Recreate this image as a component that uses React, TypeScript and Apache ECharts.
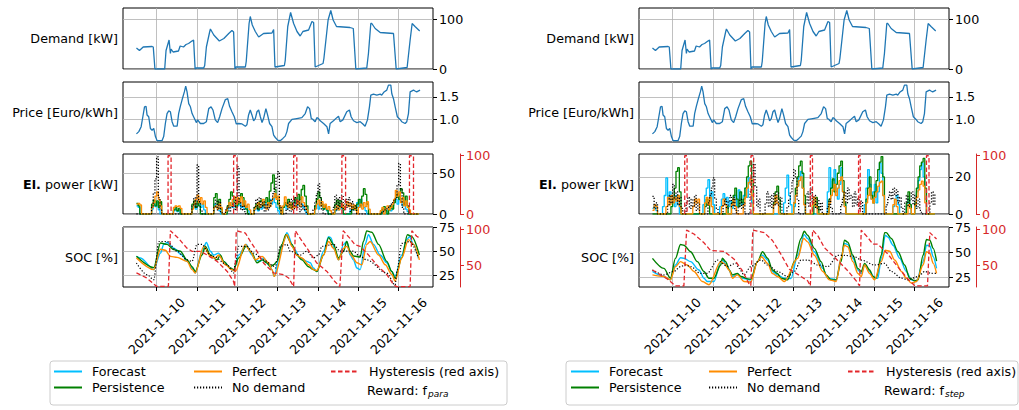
import React, { useEffect, useRef } from "react";
import * as echarts from "echarts";

// x values: hours since 2021-11-09 00:00 ; data arrays use hours since 2021-11-09 12:00
const START_HOUR = 12;
const DAY_TICKS = [24, 48, 72, 96, 120, 144, 168];
const DATE_LABELS = ["2021-11-10", "2021-11-11", "2021-11-12", "2021-11-13", "2021-11-14", "2021-11-15", "2021-11-16"];

const DEMAND = [[0,42],[1.8,37],[4,44],[9.3,45],[10,44],[11,0],[16.8,0],[17.6,37],[19.4,58],[20.2,31],[20.6,40],[21.8,34],[25,36],[26,46],[28,44],[29.5,49],[31,51],[33,56],[34,58],[34.9,0],[35.5,2],[40,2],[40.6,7],[41.6,44],[43.6,75],[44,80],[46,68],[49.3,56],[52,61],[54.9,71],[56.8,77],[57.8,74],[58.6,0],[59.2,4],[64.8,4],[65.3,15],[67,91],[67.7,105],[68.9,88],[70.7,75],[72.7,64],[75.6,71],[80.6,72],[81.6,79],[82.4,4],[88,7],[88.5,17],[90,85],[91.7,113],[93.5,91],[95.5,75],[97.4,66],[99,75],[102.4,78],[104.4,95],[105.4,93],[106.3,4],[111,11],[111.5,21],[114,98],[115.6,117],[117,98],[119,85],[127,83],[129,81],[130.5,0],[137,2],[138,31],[139.4,91],[140,91],[142,81],[145,73],[152.9,71],[154.5,0],[161,3],[162.8,58],[164,91],[165.7,85],[168.5,76]];

const PRICE = [[0,0.68],[1.4,0.73],[2.8,0.84],[3.8,1.06],[4.8,1.28],[5.7,1.29],[6.3,1.1],[7.3,1.06],[8.3,0.8],[9.3,0.76],[10.3,0.8],[11.3,0.62],[12.3,0.53],[15.2,0.53],[16.2,0.62],[17.2,0.91],[18.2,1.13],[19.2,1.19],[20.2,1.17],[21.2,0.95],[22.2,0.85],[24.2,0.85],[25.1,1.13],[26.1,1.29],[27.1,1.43],[28.5,1.61],[29.3,1.74],[30.1,1.61],[31.1,1.35],[32.1,1.28],[33.1,1.13],[34.5,1.02],[35.6,0.93],[36.4,0.99],[38,0.91],[40,0.91],[41.6,0.95],[43,1.24],[44.4,1.28],[45.5,1.21],[46.9,0.99],[48.3,0.93],[49.5,1.06],[50.9,1.24],[52.9,1.44],[54.3,1.46],[55.4,1.29],[56.8,1.17],[58.2,1.06],[59.4,0.9],[60.8,0.91],[62.8,0.9],[64.8,0.85],[65.7,0.88],[66.7,1.1],[67.7,1.21],[68.7,1.1],[69.7,0.97],[70.7,1.02],[71.7,1.17],[72.7,1.21],[73.7,1.06],[74.7,0.93],[75.6,1.02],[77,1.24],[78,1.1],[79.2,0.91],[80.6,0.84],[81.6,0.65],[82.6,0.6],[84,0.54],[85.5,0.53],[87.1,0.58],[88.5,0.63],[89.5,0.73],[90.5,0.91],[92.5,1],[95.4,1.02],[98.4,1.04],[100.4,1.13],[101.8,1.28],[103,1.24],[104,1.02],[105,1],[106.3,0.95],[107.3,1.04],[108.3,1.02],[109.3,0.97],[111.3,0.91],[113.3,0.84],[114.3,0.68],[115.2,0.91],[117.2,0.97],[119.2,1.04],[120.2,1.07],[121.2,0.95],[122.8,0.99],[125.1,1.17],[126.7,1.21],[127.7,1.06],[129.1,0.97],[131.1,0.93],[133.1,0.95],[134.7,0.9],[136,0.85],[137.4,0.99],[138.6,1.28],[139.4,1.54],[141,1.56],[143,1.54],[145,1.56],[145.9,1.54],[147.3,1.61],[148.9,1.65],[149.9,1.76],[151.3,1.76],[151.9,1.57],[152.9,1.46],[153.9,1.28],[155.2,1.06],[156.8,1],[157.8,0.95],[159.8,0.91],[160.8,0.95],[161.8,1.13],[162.8,1.61],[164.8,1.65],[165.7,1.63],[166.7,1.61],[168.7,1.65]];

// hourly electric power, left (f_para)
const L_POW_FORECAST = [10,8,0,0,0,0,0,0,0,6,12,9, 14,5,0,0,0,0,0,0,0,0,4,6, 3,5,0,0,0,0,0,0,0,8,12,6, 10,14,8,12,5,0,0,0,0,0,12,8, 10,4,0,0,0,0,6,10,14,8,12,16, 10,14,8,12,6,10,4,0,0,0,5,8, 4,10,6,12,8,14,10,18,12,20,14,8, 4,0,0,8,12,6,10,14,8,12,16,10, 14,20,12,8,4,0,0,0,0,0,8,12, 6,14,10,6,8,4,0,0,0,0,4,8, 5,10,6,0,0,0,0,4,8,5,10,14, 8,18,12,8,4,0,0,0,0,0,0,0, 0,0,4,6,0,5,8,4,10,14,18,12, 22,16,10,14,6,3,0,0,0,0,0,0,0];
const L_POW_PERSIST = [13,10,0,0,0,0,0,0,0,12,17,10, 16,8,15,0,0,0,0,0,0,0,5,8, 4,7,0,0,0,0,0,0,0,12,16,8, 15,10,0,0,0,0,0,0,0,0,20,25, 12,18,6,0,0,0,10,18,27,22,14,8, 12,18,25,20,10,6,0,0,0,0,8,12, 6,15,17,10,14,20,12,28,38,48,30,20, 12,6,0,8,14,10,18,12,8,14,20,12, 24,18,30,35,22,10,0,0,0,0,10,18, 27,20,12,6,10,5,0,0,0,0,12,17, 10,16,8,0,0,0,0,0,6,10,5,12, 18,10,22,31,24,12,0,0,0,0,0,0, 0,0,6,9,4,0,5,10,6,14,20,25, 18,31,26,12,22,10,0,0,0,0,0,0,0];
const L_POW_PERFECT = [12,13,11,0,0,0,0,0,0,8,14,22, 27,18,10,0,0,0,0,0,0,0,8,10, 9,10,7,0,0,0,0,0,0,6,12,18, 23,14,20,12,16,8,0,0,0,0,8,10, 6,12,8,0,0,4,8,14,10,18,21,12, 20,14,21,10,16,8,12,5,0,0,6,10, 14,8,12,18,10,6,14,9,16,20,25,18, 22,10,0,10,21,12,8,14,6,10,8,12, 16,9,21,14,10,5,0,0,0,0,6,12, 17,10,15,8,12,6,9,4,0,0,6,10, 5,8,12,6,10,15,9,13,7,11,5,0, 8,12,6,14,9,15,6,0,0,0,0,0, 0,4,8,0,6,10,5,8,12,18,29,22, 27,14,20,10,16,8,5,0,0,0,0,0,0];
const L_POW_NODEMAND = [0,0,0,0,0,0,0,0,0,10,25,43, 70,20,5,0,0,0,0,0,0,0,0,0, 0,0,0,0,0,0,0,0,0,10,20,8, 60,15,5,0,0,0,0,0,0,0,8,17, 5,15,3,0,0,5,10,3,8,12,5,20, 58,15,5,10,3,0,0,0,0,0,8,18, 5,20,8,15,3,12,5,10,18,25,32,45, 52,10,0,0,0,5,15,3,18,5,20,8, 17,3,12,5,10,0,0,0,0,5,15,25, 37,20,5,0,0,0,0,0,0,8,23,5, 20,8,23,5,18,8,20,3,15,5,10,0, 0,0,0,0,0,0,0,0,0,0,0,0, 0,0,3,5,6,8,10,12,14,16,20,35, 62,30,8,0,0,0,0,0,0,0,0,0,0];

// hourly electric power, right (f_step)
const R_POW_FORECAST = [3,5,2,0,0,0,4,10,19.5,8,12,6, 9,4,10,5,0,0,0,0,0,0,0,0, 0,0,0,0,0,0,5,10,14,18.5,8,12, 5,0,0,0,4,8,11,6,9,4,7,3, 6,10,4,13,8,5,10,14,9,19.5,16,6, 0,0,0,0,0,0,0,0,0,0,0,0, 0,0,0,0,0,0,6,14,21,10,5,0, 4,10,15,20,23,14,6,0,0,0,0,0, 0,0,0,0,0,0,0,0,12,25,14,18, 24,12,8,16,25,12,5,0,0,0,0,0, 0,0,0,0,0,0,5,14,24,16,8,12, 16,6,12,27.5,22,10,0,0,0,0,0,4, 8,10,5,0,0,0,0,4,8,5,0,0, 4,12,18,24,27.5,20,8,0,0,0,0,0,0];
const R_POW_PERSIST = [0,0,0,0,0,0,0,0,0,0,0,4, 8,14,23,25,12,0,0,0,0,0,0,0, 0,0,0,0,0,0,0,4,8,5,0,0, 0,0,0,0,0,0,0,0,4,0,0,6, 10,14,8,4,12,6,8,14,20,26,28.5,18, 0,0,0,0,0,0,0,0,0,0,0,0, 6,12,15,8,0,0,0,0,0,0,0,0, 6,14,20,26,28.5,22,10,0,0,0,0,0, 5,9,4,0,0,0,0,0,0,8,14,19, 12,16,22,26,28.5,18,6,0,0,0,0,0, 0,0,0,0,0,0,0,8,14,20,10,6, 12,18,24,28,31,20,0,0,0,0,0,0, 0,0,0,0,0,0,0,6,12,5,0,0, 6,14,20,26,28,30,14,0,0,0,0,0,0];
const R_POW_PERFECT = [2,5,4,0,0,0,0,0,4,9,5,10, 6,9,7,10,4,0,0,0,0,0,0,0, 4,8,6,8,0,0,0,6,9,5,9,4, 0,0,0,0,0,4,8,5,0,0,0,5, 8,4,0,0,0,0,5,9,14,17,19,10, 0,0,0,0,0,0,0,0,0,0,0,0, 5,10,6,0,0,0,0,0,0,0,0,0, 6,10,15,18,20,14,5,0,0,0,0,5, 9,4,0,0,0,0,0,0,0,6,10,13, 16,10,14,18,20,12,4,0,0,0,0,0, 0,0,0,0,0,0,0,6,10,14,8,6, 9,12,15,17,17.7,10,0,0,0,0,0,5, 8,4,0,0,0,0,0,0,5,3,0,0, 5,9,13,16,17.7,15,6,0,0,0,0,0,0];
const R_POW_NODEMAND = [9.5,3,6,0,0,0,0,0,0,5,10,6, 16,8,12,5,9,3,0,0,6,9,3,8, 4,10,2,6,0,0,0,0,0,6,10,14, 19.5,8,3,0,0,0,5,8,3,7,10,4, 9,2,0,4,8,3,6,0,0,0,12,20, 27,15,4,8,0,0,0,6,12,4,10,3, 11,5,12,4,9,0,0,0,4,8,12,18, 24,20,8,0,0,0,0,6,12,4,14,6, 10,3,8,2,6,0,0,0,4,8,3,0, 0,0,0,0,5,9,12,6,14,8,10,4, 12,5,9,3,7,0,0,0,0,0,0,0, 0,0,0,0,0,0,0,5,9,12,8,14, 10,13,6,9,3,0,6,10,4,8,12,5, 10,3,8,2,0,0,0,0,0,6,12,5,11];

// hysteresis pulses on the power panel: [start, end] hours, level on red axis
const HYST_ON = 100;
const L_HYST_PULSES = [[18.8,20.6],[57.8,59.8],[93.5,95.4],[122.2,124.4],[162.4,164.8]];
const R_HYST_PULSES = [[19.2,20.6],[58.6,60.2],[93.9,95.2],[122.6,123.6],[163,164.5]];

// SOC, left
const L_SOC_FORECAST = [[0,44.7],[2.4,43],[10.3,31],[14.3,48],[16.2,57],[18.2,59],[22.2,53],[27.1,46],[30.1,39.5],[34.1,31],[35,27.4],[39,50],[41.6,59],[44,50],[45.9,46],[48.9,48],[51.9,39.5],[55.8,32.6],[57.8,30],[60.8,46],[65.3,57],[68.7,46],[70.7,41],[73.7,39.5],[75.6,43],[78.6,36],[80.6,31],[82,24],[84.6,41],[87.5,60],[89.5,69],[93.5,53],[97.4,43],[101.4,39.5],[103.4,38],[105.3,32.6],[107.3,29],[111.3,50],[114.3,65],[115.6,64],[118.2,50],[120.2,41],[123.2,57],[125.1,60],[127.1,46],[129.1,41],[131.1,32.6],[133.1,31],[136,57],[138,67],[141,57],[145,46],[148.9,38],[151.9,29],[153.9,24],[157.8,46],[160.8,62],[162.4,65],[164.8,57],[167.7,43]];
const L_SOC_PERSIST = [[0,44.7],[10.3,33],[14.3,58.4],[18.2,57],[22.2,51.6],[26.1,50],[30.1,41],[33.1,34],[35,29],[39,46],[41,55],[44,46],[47.9,41],[49.9,46],[51.9,39.5],[55.8,32.6],[57.8,31],[60.8,43],[65.3,55],[68.7,48],[71.7,38],[74.7,41],[77.6,38],[79.6,34],[81.6,36],[83.6,39.5],[86.5,57],[88.9,67],[92.5,57],[95.4,46],[98.4,41],[102.4,34],[105.3,31],[107.3,29],[111.3,46],[114.3,64],[117.2,57],[120.2,43],[123.2,50],[125.1,60],[127.1,50],[129.1,45],[133.1,44],[135,60],[137,71],[140,69.6],[144,57],[148.9,39.5],[151.9,29],[153.9,22],[157.8,43],[161.2,67],[163.8,65],[168.3,46]];
const L_SOC_PERFECT = [[0,43],[10.3,31],[14.3,52],[17.2,51],[20.2,44.6],[24.2,43.6],[30.1,39.5],[33.1,31],[35,27.4],[40,55],[44,44.6],[46.9,43],[48.9,46],[52.9,36],[56.8,31],[58.8,29],[64.8,57],[67.7,50],[70.7,41],[74.7,44.6],[78.6,38],[80.6,31],[82,24],[89.5,67],[92.5,55],[95.4,46],[98.4,43],[102.4,36],[105.3,31],[107.3,30],[111.3,46],[114.3,60],[117.2,53],[120.2,41],[123.2,53],[125.1,55],[128.1,45],[131.1,38],[134.1,36],[137,57],[139,60],[144,46],[148,36],[151.9,26],[153.9,19],[157.8,43],[161.8,62],[164.8,57],[168.3,41]];
const L_SOC_NODEMAND = [[0,37.8],[6.3,25.7],[10.3,20.5],[13.3,60],[18.2,60],[24.2,50],[30.1,41],[33.1,39.5],[36,57],[39,57],[44,46],[45.9,44.6],[53.9,36],[57.8,27.4],[58.8,38],[60.8,55],[65.7,55],[69.7,48],[75.6,41],[80.6,36],[82.6,32.6],[83.6,41],[85.5,55],[89.5,57],[91.5,50],[97.4,46],[101.4,50],[105.3,43],[108.3,46],[110.3,55],[117.2,57],[121.2,50],[129.1,50],[132.1,46],[137,41],[148.9,27.4],[153.9,15],[154.9,29],[157.8,58],[162.8,60],[167.7,43]];
const L_SOC_HYST = [[0,40],[6,33],[12,21.3],[19,21.3],[20.2,98.6],[25,88],[30,74.5],[33,70],[38,70],[42,65],[48,56],[54,42],[57.8,28],[58.4,21],[59.4,98.6],[64.8,95.4],[67.7,84],[71.7,70],[75.6,53.7],[81.6,40],[87.5,37.5],[90.5,33],[93.5,21],[94.5,98.6],[97.4,88],[101.4,74.5],[107.3,53.7],[113.3,42],[118,28],[121,21],[123,98.6],[127,88],[130,79],[133,77],[138,65],[143,51],[149,37.5],[152.9,23.6],[154.8,21],[162.8,21],[163.8,98.6],[166.7,91],[168.7,88]];

// SOC, right
const R_SOC_FORECAST = [[0,31],[6.8,26],[10.7,22.7],[13.7,37.4],[16.7,44.6],[18.7,44],[22.7,40.7],[27.7,32.5],[30.6,24.3],[32.6,21],[36.6,21],[40.6,40.7],[41.6,42.3],[44.6,36],[47.6,26],[50.5,29],[53.5,24.3],[58.5,22.7],[62.5,40.7],[65.5,47],[68.5,42.3],[71.4,31],[74.4,27.6],[78.4,24.3],[82.4,24],[86.4,47],[90.3,67.5],[92.3,63.6],[96.3,50.5],[101.3,34],[104.3,24.3],[109.3,22.7],[112.2,44],[114.2,58.7],[116.2,57.7],[119.2,44],[122.2,32.5],[124.2,29],[126.2,37.4],[129.2,31],[132.1,25],[134.1,24.3],[136.1,44],[138.5,66.8],[140.1,65],[143.1,57],[147.1,44],[151,31],[154,22.7],[157,21],[161,40.7],[163,57],[165,56.4],[167,45.6],[169,34]];
const R_SOC_PERSIST = [[0,44],[6.8,34],[10.7,24.3],[13.7,44],[16.7,57.7],[18.7,57],[22.7,50.5],[26.7,40.7],[30.6,31],[33.6,24.3],[36.6,24.3],[40.6,37.4],[41.6,44],[43.6,40.7],[45.6,32.5],[47.6,27.6],[50.5,29],[52.5,26],[57.5,23.4],[58.5,23.4],[62.5,40.7],[65.5,50.5],[68.5,44],[71.4,32.5],[74.4,29],[76.4,24.3],[80.4,22.7],[84.4,40.7],[88.4,63.6],[90.3,70.8],[92.3,66.8],[96.3,53.8],[100.3,40.7],[103.3,27.6],[106.3,22.7],[109.3,22.7],[112.2,40.7],[114.2,62],[116.2,60],[119.2,47],[122.2,34],[124.2,31],[126.2,39],[129.2,32.5],[131.1,26],[133.1,24.3],[136.1,47],[138.1,69.4],[139.1,69.4],[142.1,63.6],[146.1,50.5],[150,37.4],[153,24.3],[156,21.7],[158,22.7],[161,47],[163,62.6],[165,62],[167,53.8],[169,41.3]];
const R_SOC_PERFECT = [[0,27.6],[6.8,26],[10.7,22.7],[13.7,35.8],[16.7,40.7],[20.7,37.4],[24.7,31],[29.7,21],[33.6,17.8],[40.6,40.7],[42.6,39],[45.6,32.5],[47.6,24.3],[50.5,27.6],[54.5,21],[58.5,20.5],[62.5,40.7],[64.9,45.6],[68.5,39],[71.4,29],[74.4,26],[78.4,21],[86.4,44],[90,63.6],[92.3,60.3],[96.3,47],[101.3,31],[105.3,22.7],[109.3,21],[112.2,44],[114.2,57],[116.2,55.4],[119.2,40.7],[122.2,29],[124.2,26],[126.2,37.4],[129.2,29],[132.1,22.7],[136.1,40.7],[138.5,52],[141.1,51],[144.1,42.3],[148.1,31],[151,24.3],[154,19.4],[157,21],[161,37.4],[163,50.5],[165,49],[167,39],[169,29]];
const R_SOC_NODEMAND = [[0,32.5],[6.8,27.6],[12.7,31],[16.7,35.8],[19.7,37.4],[22.7,35.8],[28.7,29],[32.6,29],[38.6,42.3],[44.6,36],[49.6,39],[51.5,34],[54.5,27.6],[58.5,35.8],[64.5,42.3],[68.5,37.4],[74.4,31],[80.4,26],[84.4,31],[88.4,42.3],[92.3,42.3],[98.3,37.4],[104.3,35.8],[110.2,47],[114.2,47],[120.2,45.6],[124.2,42.3],[132.1,37.4],[138.1,39],[142.1,31],[148.1,24.3],[152,22.7],[158,26],[162,31],[166,29],[169,29]];
const R_SOC_HYST = [[0,44],[8.8,31.5],[13.7,22],[18.7,22],[20.3,99.5],[24.7,94],[30.6,82],[34.6,71],[42.6,70],[48.6,59],[53.5,43],[57.5,24.5],[58.5,22],[59.7,99.5],[66.5,96],[71.4,85],[76.4,66],[81.4,45],[84.4,41],[92.3,29],[93.9,22],[95.3,99.5],[98.3,92],[102.3,75],[108.3,61.6],[116.2,43],[121.2,29],[123.2,22],[124.2,99.5],[128.2,89],[131.1,80],[134.1,80],[140.1,66],[146.1,48],[151,34],[155,24.5],[156,22],[163.6,22],[165,96],[169,87]];

// ---------- layout / style ----------
const FONT = "DejaVu Sans";
const FS = 12.7;
const COL_LEFT = [123, 639];
const GRID_W = 310;
const GRID_TOPS = [8, 82, 154, 227];
const GRID_HS = [61, 60, 60, 60];
const X_MIN = 4;
const X_MAX = 188.4;
const LABEL_SHIFT = 15.5;
const C_BLUE = "#1f77b4";
const C_FORECAST = "#00bfff";
const C_PERSIST = "#008000";
const C_PERFECT = "#ff8c00";
const C_RED = "#e3262b";
const C_RED_AXIS = "#d62728";
const C_GRIDLINE = "#b0b0b0";

const hourly = (arr: number[]) => arr.map((v, i) => [START_HOUR + i, v]);
const pairs = (arr: number[][]) => arr.map(([h, v]) => [START_HOUR + h, v]);
const pulses = (arr: number[][]) => {
  const out: any[] = [];
  arr.forEach(([s, e]) => {
    out.push([START_HOUR + s, 0], [START_HOUR + s, HYST_ON], [START_HOUR + e, HYST_ON], [START_HOUR + e, 0], [START_HOUR + e + 0.01, "-"]);
  });
  return out;
};

function buildOption() {
  const grid: any[] = [];
  const xAxis: any[] = [];
  const yAxis: any[] = [];
  const series: any[] = [];
  const graphic: any[] = [];

  const yCfg = [
    [{ min: 0, max: 122, ticks: [0, 100], fmt: (v: number) => String(v) }, { min: 0, max: 122, ticks: [0, 100], fmt: (v: number) => String(v) }],
    [{ min: 0.5, max: 1.83, ticks: [1.0, 1.5], fmt: (v: number) => v.toFixed(1) }, { min: 0.5, max: 1.83, ticks: [1.0, 1.5], fmt: (v: number) => v.toFixed(1) }],
    [{ min: 0, max: 73.5, ticks: [0, 50], fmt: (v: number) => String(v) }, { min: 0, max: 32.4, ticks: [0, 20], fmt: (v: number) => String(v) }],
    [{ min: 13, max: 75, ticks: [25, 50, 75], fmt: (v: number) => String(v) }, { min: 15.6, max: 75, ticks: [25, 50, 75], fmt: (v: number) => String(v) }],
  ];
  const names = ["Demand [kW]", "Price [Euro/kWh]", "{b|El.} power [kW]", "SOC [%]"];

  for (let c = 0; c < 2; c++) {
    for (let p = 0; p < 4; p++) {
      const gi = c * 4 + p;
      grid.push({
        left: COL_LEFT[c], top: GRID_TOPS[p], width: GRID_W, height: GRID_HS[p],
        show: true, borderColor: "#000", borderWidth: 1, backgroundColor: "transparent",
      });
      const showX = p === 3;
      xAxis.push({
        type: "value", gridIndex: gi, min: X_MIN, max: X_MAX,
        axisLine: { show: false, onZero: false },
        axisTick: { show: showX, customValues: DAY_TICKS, length: 4, lineStyle: { color: "#000" } },
        axisLabel: {
          show: showX, customValues: DAY_TICKS.map((v) => v + LABEL_SHIFT), rotate: 45, margin: 13,
          color: "#000", fontFamily: FONT, fontSize: FS,
          formatter: (v: number) => DATE_LABELS[DAY_TICKS.indexOf(Math.round(v - LABEL_SHIFT))] || "",
        },
        splitLine: { show: true, lineStyle: { color: C_GRIDLINE, width: 0.8 } },
      });
      const yc = yCfg[p][c];
      yAxis.push({
        type: "value", gridIndex: gi, position: "right", min: yc.min, max: yc.max,
        axisLine: { show: false, onZero: false },
        axisTick: { show: true, customValues: yc.ticks, length: 4, lineStyle: { color: "#000" } },
        axisLabel: { customValues: yc.ticks, formatter: yc.fmt, color: "#000", fontFamily: FONT, fontSize: FS, margin: 6 },
        splitLine: { show: true, lineStyle: { color: C_GRIDLINE, width: 0.8 } },
      });
      graphic.push({
        type: "text", x: COL_LEFT[c] - 5, y: GRID_TOPS[p] + GRID_HS[p] / 2,
        style: {
          text: names[p], fontFamily: FONT, fontSize: FS, fill: "#000", align: "right", verticalAlign: "middle",
          rich: { b: { fontFamily: FONT, fontSize: FS, fontWeight: "bold", fill: "#000" } },
        },
      });
    }
  }
  // red axes: index 8 (left power), 9 (left soc), 10 (right power), 11 (right soc)
  for (let c = 0; c < 2; c++) {
    const defs = [
      { gi: c * 4 + 2, min: 0, max: 103, ticks: [0, 100] },
      { gi: c * 4 + 3, min: 20.4, max: 103.8, ticks: [50, 100] },
    ];
    defs.forEach((d) => {
      yAxis.push({
        type: "value", gridIndex: d.gi, position: "right", offset: 27, min: d.min, max: d.max,
        axisLine: { show: true, onZero: false, lineStyle: { color: C_RED_AXIS, width: 1 } },
        axisTick: { show: true, customValues: d.ticks, length: 4, lineStyle: { color: C_RED_AXIS } },
        axisLabel: { customValues: d.ticks, color: C_RED_AXIS, fontFamily: FONT, fontSize: FS, margin: 6 },
        splitLine: { show: false },
      });
    });
  }

  const mk = (name: string, data: any[], gi: number, yi: number, color: string, width: number, type: any, extra?: any) => ({
    type: "line", name, data, xAxisIndex: gi, yAxisIndex: yi, symbol: "none", showSymbol: false,
    lineStyle: { color, width, type }, itemStyle: { color }, silent: true, connectNulls: false,
    ...(extra || {}),
  });
  const DOT = [1.2, 1.8];
  const DASH = [4.5, 2.5];

  const cols = [
    { pow: [L_POW_FORECAST, L_POW_PERSIST, L_POW_PERFECT, L_POW_NODEMAND], pulses: L_HYST_PULSES,
      soc: [L_SOC_FORECAST, L_SOC_PERSIST, L_SOC_PERFECT, L_SOC_NODEMAND], socH: L_SOC_HYST },
    { pow: [R_POW_FORECAST, R_POW_PERSIST, R_POW_PERFECT, R_POW_NODEMAND], pulses: R_HYST_PULSES,
      soc: [R_SOC_FORECAST, R_SOC_PERSIST, R_SOC_PERFECT, R_SOC_NODEMAND], socH: R_SOC_HYST },
  ];
  const sNames = ["Forecast", "Persistence", "Perfect", "No demand"];
  const sColors = [C_FORECAST, C_PERSIST, C_PERFECT, "#000"];

  cols.forEach((col, c) => {
    const g = c * 4;
    series.push(mk("Demand", pairs(DEMAND), g, g, C_BLUE, 1.3, "solid"));
    series.push(mk("Price", pairs(PRICE), g + 1, g + 1, C_BLUE, 1.3, "solid"));
    col.pow.forEach((arr, k) => {
      series.push(mk(sNames[k], hourly(arr), g + 2, g + 2, sColors[k], 1.3, k === 3 ? DOT : "solid", { step: "end" }));
    });
    series.push(mk("Hysteresis (red axis)", pulses(col.pulses), g + 2, 8 + c * 2, C_RED, 1.3, DASH));
    col.soc.forEach((arr, k) => {
      series.push(mk(sNames[k], pairs(arr), g + 3, g + 3, sColors[k], k === 3 ? 1.2 : 1.4, k === 3 ? DOT : "solid",
        { smooth: 0.3, smoothMonotone: "x" }));
    });
    series.push(mk("Hysteresis (red axis)", pairs(col.socH), g + 3, 9 + c * 2, C_RED, 1.3, DASH));
  });

  // legends
  const LEG_X = [[53, 193, 330], [570, 708, 847]];
  const legGroups = [["Forecast", "Persistence"], ["Perfect", "No demand"], ["Hysteresis (red axis)"]];
  const legend: any[] = [];
  for (let c = 0; c < 2; c++) {
    legGroups.forEach((grp, j) => {
      legend.push({
        data: grp, orient: "vertical", left: LEG_X[c][j], top: 365, itemWidth: 28, itemHeight: 14, itemGap: 3,
        padding: 0, selectedMode: false,
        itemStyle: { opacity: 0 },
        textStyle: { fontFamily: FONT, fontSize: FS, color: "#000", padding: [0, 0, 0, 5] },
      });
    });
  }
  const BOX = [{ x: 50, w: 457 }, { x: 566, w: 452 }];
  const REWARD = ["para", "step"];
  for (let c = 0; c < 2; c++) {
    graphic.push({
      type: "rect", z: -10, shape: { x: BOX[c].x, y: 361, width: BOX[c].w, height: 44, r: 3 },
      style: { fill: "#fff", stroke: "#cccccc", lineWidth: 1 },
    });
    const tx = LEG_X[c][2] + 37;
    graphic.push({
      type: "text", x: tx, y: 390,
      style: { text: "Reward: f", fontFamily: FONT, fontSize: FS, fill: "#000", align: "left", verticalAlign: "middle" },
    });
    graphic.push({
      type: "text", x: tx + 61, y: 394,
      style: { text: REWARD[c], fontFamily: FONT, fontSize: 9, fontStyle: "italic", fill: "#000", align: "left", verticalAlign: "middle" },
    });
  }

  return { animation: false, backgroundColor: "#fff", grid, xAxis, yAxis, series, legend, graphic };
}

export default function App() {
  const ref = useRef<HTMLDivElement>(null);
  useEffect(() => {
    if (!ref.current) return;
    const chart = echarts.init(ref.current, null, { renderer: "svg" });
    chart.setOption(buildOption() as any);
    return () => chart.dispose();
  }, []);
  return <div ref={ref} style={{ position: "absolute", left: 0, top: 0, width: 1019, height: 410 }} />;
}
